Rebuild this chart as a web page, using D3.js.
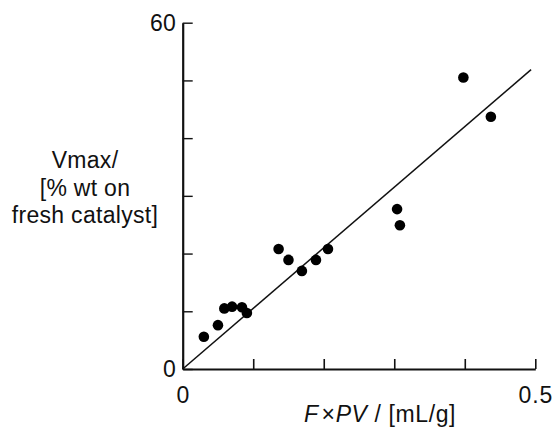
<!DOCTYPE html>
<html>
<head>
<meta charset="utf-8">
<script src="https://cdn.jsdelivr.net/npm/d3@7"></script>
<style>
  html, body { margin: 0; padding: 0; background: #fff; }
  svg { display: block; font-family: "Liberation Sans", Arial, Helvetica, sans-serif; }
</style>
</head>
<body>
<svg id="chart" width="552" height="428"></svg>
<script>
// Measured points: F×PV (mL/g) against Vmax (% wt on fresh catalyst)
const fpv  = [0.030, 0.050, 0.059, 0.070, 0.084, 0.091, 0.136, 0.150, 0.169, 0.189, 0.206, 0.304, 0.308, 0.398, 0.437];
const vmax = [5.6,   7.6,   10.5,  10.8,  10.7,  9.7,   20.8,  18.9,  17.0,  18.9,  20.8,  27.7,  24.9,  50.5,  43.7];

// Fitted line through the origin
const fitSlope = 105;
const fitXEnd = 0.494;

// Axis ticks and the labels shown on them
const xTicks = [0, 0.1, 0.2, 0.3, 0.4, 0.5];
const xTickLabels = ["0", "", "", "", "", "0.5"];
const yTicks = [0, 10, 20, 30, 40, 50, 60];
const yTickLabels = ["0", "", "", "", "", "", "60"];

const yTitleLines = ["Vmax/", "[% wt on", "fresh catalyst]"];

const svg = d3.select("#chart");

const x = d3.scaleLinear().domain([0, 0.5]).range([182.7, 535.3]);
const y = d3.scaleLinear().domain([0, 60]).range([369, 22.7]);

// x axis, ticks pointing inward
const xAxis = d3.axisBottom(x)
  .tickValues(xTicks)
  .tickSizeInner(-10)
  .tickSizeOuter(0)
  .tickPadding(18)
  .tickFormat((d, i) => xTickLabels[i]);

const gx = svg.append("g")
  .attr("transform", `translate(0,${y(0)})`)
  .call(xAxis);
gx.select(".domain").attr("stroke", "#111").attr("stroke-width", 2);
gx.selectAll(".tick line").attr("stroke", "#111").attr("stroke-width", 1.6);
gx.selectAll(".tick text")
  .attr("font-size", 23)
  .attr("letter-spacing", 0.8)
  .attr("fill", "#111")
  .attr("font-family", "Liberation Sans, Arial, sans-serif");

// y axis, ticks pointing inward
const yAxis = d3.axisLeft(y)
  .tickValues(yTicks)
  .tickSizeInner(-10)
  .tickSizeOuter(0)
  .tickPadding(7)
  .tickFormat((d, i) => yTickLabels[i]);

const gy = svg.append("g")
  .attr("transform", `translate(${x(0)},0)`)
  .call(yAxis);
gy.select(".domain").attr("stroke", "#111").attr("stroke-width", 2.2);
gy.selectAll(".tick line").attr("stroke", "#111").attr("stroke-width", 1.4);
gy.selectAll(".tick text")
  .attr("font-size", 23)
  .attr("fill", "#111")
  .attr("font-family", "Liberation Sans, Arial, sans-serif");

// Fitted line
const line = d3.line().x(d => x(d[0])).y(d => y(d[1]));
svg.append("path")
  .datum([[0, 0], [fitXEnd, fitSlope * fitXEnd]])
  .attr("d", line)
  .attr("fill", "none")
  .attr("stroke", "#111")
  .attr("stroke-width", 1.5);

// Data points
svg.append("g")
  .selectAll("circle")
  .data(fpv.map((v, i) => [v, vmax[i]]))
  .join("circle")
  .attr("cx", d => x(d[0]))
  .attr("cy", d => y(d[1]))
  .attr("r", 5.3)
  .attr("fill", "#000");

// y title, three centred lines
svg.append("text")
  .attr("text-anchor", "middle")
  .attr("font-size", 23)
  .attr("letter-spacing", 0.3)
  .attr("fill", "#111")
  .selectAll("tspan")
  .data(yTitleLines)
  .join("tspan")
  .attr("x", 85)
  .attr("y", (d, i) => 168 + i * 27.5)
  .text(d => d);

// x title with italic symbols
const xt = svg.append("text")
  .attr("x", 380)
  .attr("y", 422)
  .attr("text-anchor", "middle")
  .attr("font-size", 23)
  .attr("letter-spacing", 0.6)
  .attr("fill", "#111");
xt.append("tspan").attr("font-style", "italic").text("F");
xt.append("tspan").attr("dx", 3).text("\u00d7");
xt.append("tspan").attr("font-style", "italic").text("PV");
xt.append("tspan").text(" / [mL/g]");
</script>
</body>
</html>
